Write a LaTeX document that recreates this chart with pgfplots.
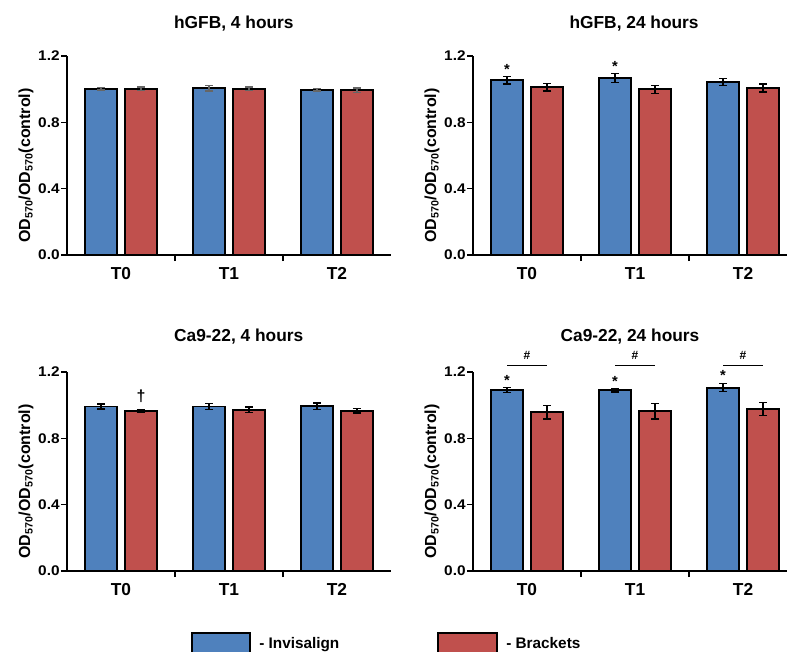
\documentclass[border=0pt]{standalone}
\usepackage{fontspec}
\setmainfont{Liberation Sans}
\newfontfamily\tickfont{Liberation Sans}[FakeStretch=1.1]
\usepackage{pgfplots}
\pgfplotsset{compat=1.18}

\definecolor{invcol}{HTML}{4F81BD}
\definecolor{brkcol}{HTML}{C0504D}

\pgfplotsset{
  panel/.style={
    scale only axis,
    anchor=south west,
    height=149.25pt,
    ymin=0, ymax=1.2,
    xmin=-0.5,
    ytick={0,0.4,0.8,1.2},
    minor ytick={0,0.4,0.8,1.2},
    xtick={0,1,2},
    xticklabels={T0,T1,T2},
    minor xtick={0.5,1.5},
    axis lines=left,
    axis line style={-, line width=1.1pt},
    tick style={line width=1.1pt, black},
    tick align=outside,
    major tick length=0pt,
    minor tick length=4.5pt,
    /pgf/number format/assume math mode=true,
    yticklabel style={font=\tickfont\fontsize{10.5}{10.5}\selectfont\bfseries, xshift=-2pt,
      /pgf/number format/.cd, fixed, fixed zerofill, precision=1},
    xticklabel style={font=\fontsize{13}{13}\selectfont\bfseries, anchor=base, yshift=-18.5pt},
    ylabel={OD\textsubscript{570}/OD\textsubscript{570}(control)},
    ylabel style={font=\fontsize{12}{12}\selectfont\bfseries,
      at={(axis description cs:0,0.45)}, anchor=center, yshift=30.75pt},
    title style={font=\fontsize{13}{13}\selectfont\bfseries, anchor=center},
    ybar,
    bar width=0.29,
    clip=false,
    error bars/y dir=both,
    error bars/y explicit,
  },
  inv/.style={fill=invcol, draw=black, line width=1.4pt, bar shift=-0.185,
    error bars/.cd, error bar style={line width=1.1pt, #1},
    error mark options={rotate=90, line width=1.1pt, mark size=3pt, #1}},
  brk/.style={fill=brkcol, draw=black, line width=1.4pt, bar shift=0.185,
    error bars/.cd, error bar style={line width=1.1pt, #1},
    error mark options={rotate=90, line width=1.1pt, mark size=3pt, #1}},
}

\begin{document}
\begin{tikzpicture}
\useasboundingbox (0,0) rectangle (590.25pt,-488.25pt);

% hGFB, 4 hours
\begin{axis}[panel, at={(50.25pt,-191.25pt)}, width=243pt, xmax=2.5,
  title={hGFB, 4 hours},
  title style={at={(axis description cs:0.515,1)}, yshift=18pt}]
\addplot[inv=black!60] coordinates {
  (0,1.003) +- (0,0.008)
  (1,1.006) +- (0,0.016)
  (2,0.997) +- (0,0.007)
};
\addplot[brk=black!60] coordinates {
  (0,1.003) +- (0,0.010)
  (1,1.002) +- (0,0.010)
  (2,0.993) +- (0,0.013)
};
\end{axis}

% hGFB, 24 hours
\begin{axis}[panel, at={(354.75pt,-191.25pt)}, width=235.5pt, xmax=2.407,
  title={hGFB, 24 hours},
  title style={at={(axis description cs:0.513,1)}, yshift=18pt}]
\addplot[inv=black] coordinates {
  (0,1.054) +- (0,0.022)
  (1,1.066) +- (0,0.027)
  (2,1.043) +- (0,0.022)
};
\addplot[brk=black] coordinates {
  (0,1.011) +- (0,0.022)
  (1,0.999) +- (0,0.024)
  (2,1.007) +- (0,0.024)
};
\node[font=\fontsize{11}{11}\selectfont\bfseries] at (axis cs:-0.185,1.118) {*};
\node[font=\fontsize{11}{11}\selectfont\bfseries] at (axis cs:0.815,1.136) {*};
\end{axis}

% Ca9-22, 4 hours
\begin{axis}[panel, at={(50.25pt,-428.25pt)}, width=243pt, xmax=2.5,
  title={Ca9-22, 4 hours},
  title style={at={(axis description cs:0.53,1)}, yshift=20.5pt}]
\addplot[inv=black] coordinates {
  (0,0.992) +- (0,0.016)
  (1,0.992) +- (0,0.017)
  (2,0.994) +- (0,0.020)
};
\addplot[brk=black] coordinates {
  (0,0.964) +- (0,0.009)
  (1,0.973) +- (0,0.016)
  (2,0.966) +- (0,0.013)
};
\node[font=\fontsize{12}{12}\selectfont\bfseries] at (axis cs:0.185,1.053) {\textdagger};
\end{axis}

% Ca9-22, 24 hours
\begin{axis}[panel, at={(354.75pt,-428.25pt)}, width=235.5pt, xmax=2.407,
  title={Ca9-22, 24 hours},
  title style={at={(axis description cs:0.5,1)}, yshift=20.5pt}]
\addplot[inv=black] coordinates {
  (0,1.093) +- (0,0.015)
  (1,1.090) +- (0,0.010)
  (2,1.106) +- (0,0.025)
};
\addplot[brk=black] coordinates {
  (0,0.957) +- (0,0.040)
  (1,0.963) +- (0,0.047)
  (2,0.977) +- (0,0.040)
};
\node[font=\fontsize{11}{11}\selectfont\bfseries] at (axis cs:-0.185,1.152) {*};
\node[font=\fontsize{11}{11}\selectfont\bfseries] at (axis cs:0.815,1.143) {*};
\node[font=\fontsize{11}{11}\selectfont\bfseries] at (axis cs:1.815,1.178) {*};
% significance brackets between the two bars of each group
\draw[line width=1pt] (axis cs:-0.185,1.238) -- (axis cs:0.185,1.238);
\draw[line width=1pt] (axis cs:0.815,1.238) -- (axis cs:1.185,1.238);
\draw[line width=1pt] (axis cs:1.815,1.238) -- (axis cs:2.185,1.238);
\node[font=\fontsize{9}{9}\selectfont\bfseries] at (axis cs:0,1.30) {\#};
\node[font=\fontsize{9}{9}\selectfont\bfseries] at (axis cs:1,1.30) {\#};
\node[font=\fontsize{9}{9}\selectfont\bfseries] at (axis cs:2,1.30) {\#};
\end{axis}

% legend
\draw[fill=invcol, line width=1.4pt] (144pt,-474.75pt) rectangle (187.5pt,-490pt);
\node[anchor=base west, inner sep=0pt, font=\fontsize{11.5}{11.5}\selectfont\bfseries]
  at (194.25pt,-486pt) {- Invisalign};
\draw[fill=brkcol, line width=1.4pt] (328.5pt,-474.75pt) rectangle (372.75pt,-490pt);
\node[anchor=base west, inner sep=0pt, font=\fontsize{11.5}{11.5}\selectfont\bfseries]
  at (379.5pt,-486pt) {- Brackets};
\end{tikzpicture}
\end{document}
